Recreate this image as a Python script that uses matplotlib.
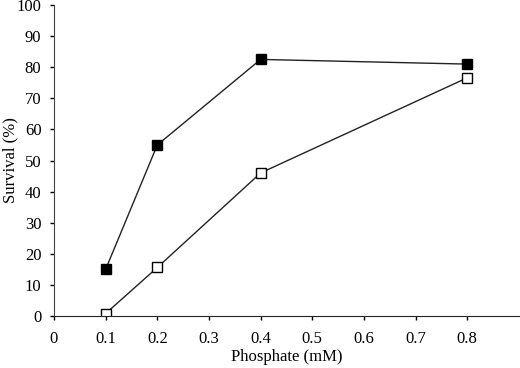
import matplotlib.pyplot as plt

# datos
fosfato = [0.1, 0.2, 0.4, 0.8]
sobrevida_llena = [15, 55, 82.5, 81]
sobrevida_vacia = [0.8, 15.6, 46, 76.6]

xticks = [0, 0.1, 0.2, 0.3, 0.4, 0.5, 0.6, 0.7, 0.8]
yticks = list(range(0, 101, 10))

plt.rcParams['font.family'] = ['Liberation Serif', 'DejaVu Serif']

fig = plt.figure(figsize=(5.2, 3.68), dpi=100)
ax = fig.add_axes([0.1038, 0.1413, 0.8942, 0.8451])

ax.plot(fosfato, sobrevida_llena, color='#222222', linewidth=1.0,
        marker='s', markersize=7, markerfacecolor='black', markeredgecolor='black')
ax.plot(fosfato, sobrevida_vacia, color='#222222', linewidth=1.0,
        marker='s', markersize=7, markerfacecolor='white', markeredgecolor='black',
        markeredgewidth=1.0)

ax.set_xlim(0, 0.9)
ax.set_ylim(0, 100)
ax.set_xticks(xticks)
ax.set_xticklabels([f"{t:g}" for t in xticks])
ax.set_yticks(yticks)

ax.spines['top'].set_visible(False)
ax.spines['right'].set_visible(False)
ax.spines['left'].set_color('#444444')
ax.spines['bottom'].set_color('#222222')
ax.tick_params(direction='out', length=3, width=1, labelsize=12)
ax.tick_params(axis='x', pad=8)
ax.tick_params(axis='y', pad=6)

ax.set_xlabel("Phosphate (mM)", fontsize=12, va='center')
ax.set_ylabel("Survival (%)", fontsize=12, va='center')
ax.xaxis.set_label_coords(0.5, -0.133)
ax.yaxis.set_label_coords(-0.093, 0.5)

plt.savefig('out.png', dpi=100)
